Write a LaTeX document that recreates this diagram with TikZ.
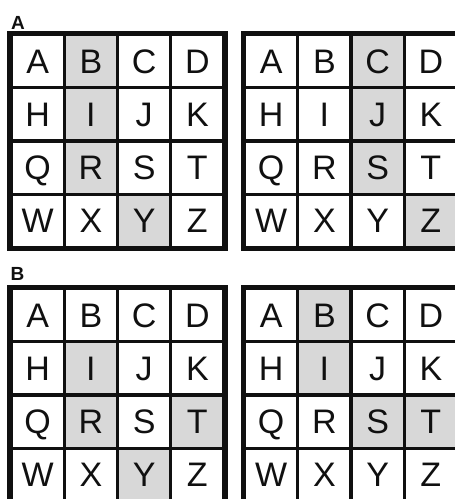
\documentclass[tikz,border=0pt]{standalone}
\usepackage{fontspec}
\setmainfont{Liberation Sans}
\usetikzlibrary{positioning,backgrounds}
\definecolor{cellgray}{HTML}{D8D8D8}
\definecolor{ink}{HTML}{101010}
\newfontfamily\panelfont{Liberation Sans Bold}
\tikzset{
  cell/.style={draw=ink,line width=3.2pt,minimum size=53.25pt,inner sep=0pt,
    text height=24pt,text depth=0pt,font=\fontsize{34}{34}\selectfont,text=ink},
  frame/.style={draw=ink,line width=4.2pt},
  panel/.style={anchor=base west,inner sep=0pt,font=\panelfont\fontsize{19}{19}\selectfont,text=ink},
}
% one 4x4 letter grid: name, left, top, shaded letters
\newcommand{\lettergrid}[4]{
  \foreach \ltr [count=\i from 0] in {A,B,C,D,H,I,J,K,Q,R,S,T,W,X,Y,Z} {
    \pgfmathtruncatemacro\col{mod(\i,4)}
    \pgfmathtruncatemacro\row{div(\i,4)}
    \node[cell] (#1-\ltr) at ({#2+(\col+0.5)*53.25},{#3-(\row+0.5)*53.25}) {\ltr};
  }
  \begin{scope}[on background layer]
    \foreach \s in {#4}
      \fill[cellgray] (#1-\s.north west) rectangle (#1-\s.south east);
  \end{scope}
  \draw[frame] (#1-A.north west) rectangle (#1-Z.south east);
}

\begin{document}
\begin{tikzpicture}[x=1pt,y=1pt]
  \useasboundingbox (0,0) rectangle (455,-499);
  \clip (0,0) rectangle (455,-499);

  \node[panel] (labA) at (11,-29) {A};
  \lettergrid{al}{11}{-34.5}{B,I,R,Y}
  \lettergrid{ar}{244.5}{-34.5}{C,J,S,Z}

  \node[panel] (labB) at (10.5,-280) {B};
  \lettergrid{bl}{11}{-288.5}{I,R,T,Y}
  \lettergrid{br}{244.5}{-288.5}{B,I,S,T}
\end{tikzpicture}
\end{document}
